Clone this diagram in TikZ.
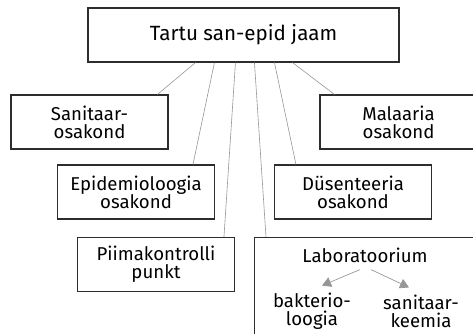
\documentclass[tikz,border=0pt]{standalone}
\usepackage{fontspec}
\setmainfont{Fira Sans}
\usetikzlibrary{calc,arrows.meta}
\definecolor{boxline}{RGB}{45,45,45}
\definecolor{conn}{RGB}{150,150,150}
\tikzset{
  unit/.style={draw=boxline, line width=1.1pt, minimum width=157pt, minimum height=54pt, align=center, font=\fontsize{18.6}{18}\selectfont, inner sep=0pt},
  link/.style={draw=conn, line width=0.6pt},
  sub/.style={align=center, font=\fontsize{18.6}{18}\selectfont, inner sep=0pt},
  subarrow/.style={draw=conn, line width=0.7pt, -{Triangle[length=9pt,width=10pt]}}
}
\begin{document}
\begin{tikzpicture}[x=1pt,y=-1pt]
\useasboundingbox (0,0) rectangle (473,333);
\node[unit, minimum width=311pt, font=\fontsize{20.6}{20}\selectfont] (top) at (243.5,35) {Tartu san-epid jaam};
\node[unit] (san) at (89.5,122) {Sanitaar-\\osakond};
\node[unit] (mal) at (398.5,122) {Malaaria\\osakond};
\node[unit] (epi) at (136,192) {Epidemioloogia\\osakond};
\node[unit] (dys) at (353,192) {Düsenteeria\\osakond};
\node[unit] (pii) at (156,264.5) {Piimakontrolli\\punkt};
\node[unit, minimum width=222pt, minimum height=120pt, anchor=north west] (lab) at (254,237) {};
\node[sub] (labt) at (365,255) {Laboratoorium};
\node[sub] (bak) at (312,311) {bakterio-\\loogia};
\node[sub] (sank) at (421,311) {sanitaar-\\keemia};
\draw[link] ($(top.south west)+(108,0)$) -- ($(san.north west)+(147,0)$);
\draw[link] ($(top.south west)+(127,0)$) -- ($(epi.north west)+(136,0)$);
\draw[link] ($(top.south west)+(148,0)$) -- ($(pii.north west)+(147,0)$);
\draw[link] ($(top.south west)+(167,0)$) -- ($(lab.north west)+(12,0)$);
\draw[link] ($(top.south west)+(187,0)$) -- ($(dys.north west)+(22,0)$);
\draw[link] ($(top.south west)+(205,0)$) -- ($(mal.north west)+(15,0)$);
\draw[subarrow] ($(labt.south)+(-5,7)$) -- ($(bak.north)+(10,-7)$);
\draw[subarrow] ($(labt.south)+(6,7)$) -- ($(sank.north)+(-12,-7)$);
\end{tikzpicture}
\end{document}
